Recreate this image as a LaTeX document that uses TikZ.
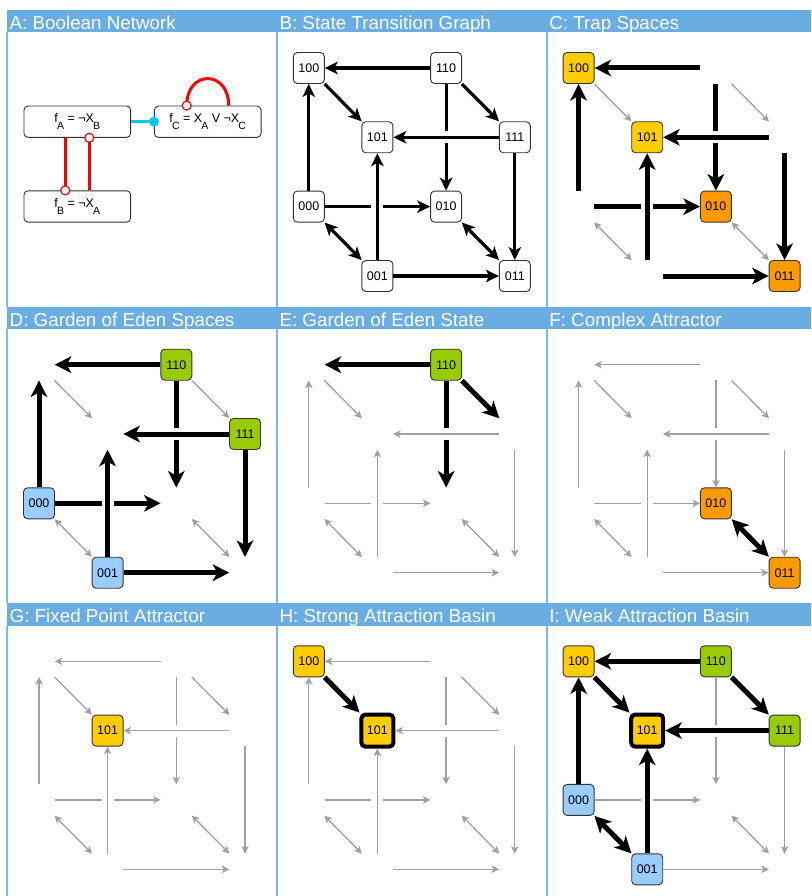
\documentclass[tikz,border=0pt]{standalone}
\usepackage{fontspec}
\setmainfont{Liberation Sans}
\usetikzlibrary{arrows.meta,calc}
\definecolor{barblue}{HTML}{69ADE2}
\definecolor{lineblue}{HTML}{7FB8E6}
\definecolor{boxline}{HTML}{333333}
\definecolor{tyellow}{HTML}{FFCC00}
\definecolor{torange}{HTML}{FF9900}
\definecolor{tgreen}{HTML}{99CC00}
\definecolor{tblue}{HTML}{99CCFF}
\definecolor{egrey}{HTML}{A0A0A0}
\definecolor{tcyan}{HTML}{00C8F0}
\definecolor{tred}{HTML}{FF0000}
\newcommand\sbs[1]{\kern-0.8pt\raisebox{-7pt}{\fontsize{10.5}{10.5}\selectfont #1}}
\newcommand\cubepanel[3]{%
 \begin{scope}[shift={(#2,#3)}]
  \node[n100] (#1n100) at (32,58) {100};
  \node[n110] (#1n110) at (169.3,58) {110};
  \node[n101] (#1n101) at (100.6,127.3) {101};
  \node[n111] (#1n111) at (238,127.3) {111};
  \node[n000] (#1n000) at (32,196.6) {000};
  \node[n010] (#1n010) at (169.3,196.6) {010};
  \node[n001] (#1n001) at (100.6,266) {001};
  \node[n011] (#1n011) at (238,266) {011};
  \draw[e4,->] (#1n110) -- (#1n010);
  \draw[e8,->] (#1n000) -- (#1n010);
  \fill[white] (169.3-5,127.3-6) rectangle (169.3+5,127.3+6);
  \fill[white] (100.6-6,196.6-5) rectangle (100.6+6,196.6+5);
  \draw[e1,->] (#1n110) -- (#1n100);
  \draw[e2,->] (#1n100) -- (#1n101);
  \draw[e3,->] (#1n110) -- (#1n111);
  \draw[e5,->] (#1n111) -- (#1n101);
  \draw[e6,->] (#1n111) -- (#1n011);
  \draw[e7,->] (#1n000) -- (#1n100);
  \draw[e9,->] (#1n001) -- (#1n101);
  \draw[e10,<->] (#1n000) -- (#1n001);
  \draw[e11,<->] (#1n010) -- (#1n011);
  \draw[e12,->] (#1n001) -- (#1n011);
 \end{scope}}
\begin{document}
\begin{tikzpicture}[x=1pt,y=-1pt,
  hid/.style={draw=none,fill=none,minimum size=31pt,inner sep=0pt,
    execute at begin node={\setbox0\hbox\bgroup},execute at end node={\egroup}},
  cbox/.style={draw=boxline,line width=0.9pt,rounded corners=4pt,minimum size=31pt,inner sep=0pt,font=\fontsize{12.5}{12.5}\selectfont},
  wbox/.style={cbox,fill=white},
  ybox/.style={cbox,fill=tyellow},
  obox/.style={cbox,fill=torange},
  gbox/.style={cbox,fill=tgreen},
  lbbox/.style={cbox,fill=tblue},
  attr/.style={cbox,fill=tyellow,draw=black,line width=4pt,minimum size=32pt},
  gE/.style={draw=egrey,line width=1.3pt,>={Stealth[length=7.5pt,width=7.5pt,inset=2pt]}},
  mE/.style={draw=black,line width=3.2pt,>={Stealth[length=13pt,width=12.5pt,inset=3.5pt]}},
  bE/.style={draw=black,line width=5pt,>={Stealth[length=16.5pt,width=16.5pt,inset=4.5pt]}},
  n100/.style=hid,n110/.style=hid,n101/.style=hid,n111/.style=hid,
  n000/.style=hid,n010/.style=hid,n001/.style=hid,n011/.style=hid,
  e1/.style=gE,e2/.style=gE,e3/.style=gE,e4/.style=gE,e5/.style=gE,e6/.style=gE,
  e7/.style=gE,e8/.style=gE,e9/.style=gE,e10/.style=gE,e11/.style=gE,e12/.style=gE,
  ttl/.style={text=white,inner sep=0pt,anchor=base west,font=\fontsize{18.8}{18.8}\selectfont},
  abox/.style={draw=boxline,line width=0.9pt,rounded corners=4pt,fill=white,minimum width=106.7pt,minimum height=31.3pt,inner sep=0pt,font=\fontsize{12.5}{12.5}\selectfont},
  act/.style={draw=tcyan,line width=3pt},
  inh/.style={draw=tred,line width=3pt},
  ocirc/.style={draw=tred,fill=white,line width=1.2pt},
  pline/.style={draw=lineblue,line width=2pt}
]
\useasboundingbox (0,0) rectangle (811,896);
% frames
\fill[barblue] (7,10) rectangle (811,32.3);
\fill[barblue] (7,306.7) rectangle (811,329);
\fill[barblue] (7,603.3) rectangle (811,625.6);
\foreach \L in {7,276.8,546.6}{
  \draw[pline] (\L,32.3) -- (\L,306.7);
  \draw[pline] (\L,329) -- (\L,603.3);
  \draw[pline] (\L,625.6) -- (\L,896);
}
\node[ttl] (tA) at (9.5,29.5) {A: Boolean Network};
\node[ttl] (tB) at (279.3,29.5) {B: State Transition Graph};
\node[ttl] (tC) at (549.1,29.5) {C: Trap Spaces};
\node[ttl] (tD) at (9.5,326) {D: Garden of Eden Spaces};
\node[ttl] (tE) at (279.3,326) {E: Garden of Eden State};
\node[ttl] (tF) at (549.1,326) {F: Complex Attractor};
\node[ttl] (tG) at (9.5,622.6) {G: Fixed Point Attractor};
\node[ttl] (tH) at (279.3,622.6) {H: Strong Attraction Basin};
\node[ttl] (tI) at (549.1,622.6) {I: Weak Attraction Basin};
% panel A
\node[abox] (fA) at (77.3,121.7) {f\sbs{A} = ¬X\sbs{B}};
\node[abox] (fC) at (207.7,121.7) {f\sbs{C} = X\sbs{A} V ¬X\sbs{C}};
\node[abox] (fB) at (77.3,206.5) {f\sbs{B} = ¬X\sbs{A}};
\draw[act] (fA.east) -- (fC.west);
\fill[tcyan] (fC.west) circle (5);
\draw[inh] ([xshift=-12pt]fA.south) -- ([xshift=-12pt]fB.north);
\draw[inh] ([xshift=12pt]fB.north) -- ([xshift=12pt]fA.south);
\draw[inh] ([xshift=-21pt]fC.north) .. controls ([xshift=-21pt,yshift=36pt]fC.north) and ([xshift=21pt,yshift=36pt]fC.north) .. ([xshift=21pt]fC.north);
\draw[ocirc] ([xshift=-12pt]fB.north) circle (4.5);
\draw[ocirc] ([xshift=12pt]fA.south) circle (4.5);
\draw[ocirc] ([xshift=-21pt]fC.north) circle (4.5);
% panel B
\begin{scope}[n100/.style=wbox,n110/.style=wbox,n101/.style=wbox,n111/.style=wbox,
  n000/.style=wbox,n010/.style=wbox,n001/.style=wbox,n011/.style=wbox,
  e1/.style=mE,e2/.style=mE,e3/.style=mE,e4/.style=mE,e5/.style=mE,e6/.style=mE,
  e7/.style=mE,e8/.style=mE,e9/.style=mE,e10/.style=mE,e11/.style=mE,e12/.style=mE]
\cubepanel{B}{276.8}{10}
\end{scope}
% panel C
\begin{scope}[n100/.style=ybox,n101/.style=ybox,n010/.style=obox,n011/.style=obox,
  e1/.style=bE,e4/.style=bE,e5/.style=bE,e6/.style=bE,e7/.style=bE,e8/.style=bE,e9/.style=bE,e12/.style=bE]
\cubepanel{C}{546.6}{10}
\end{scope}
% panel D
\begin{scope}[n110/.style=gbox,n111/.style=gbox,n000/.style=lbbox,n001/.style=lbbox,
  e1/.style=bE,e4/.style=bE,e5/.style=bE,e6/.style=bE,e7/.style=bE,e8/.style=bE,e9/.style=bE,e12/.style=bE]
\cubepanel{D}{7}{306.7}
\end{scope}
% panel E
\begin{scope}[n110/.style=gbox,e1/.style=bE,e3/.style=bE,e4/.style=bE]
\cubepanel{E}{276.8}{306.7}
\end{scope}
% panel F
\begin{scope}[n010/.style=obox,n011/.style=obox,e11/.style=bE]
\cubepanel{F}{546.6}{306.7}
\end{scope}
% panel G
\begin{scope}[n101/.style=ybox]
\cubepanel{G}{7}{603.3}
\end{scope}
% panel H
\begin{scope}[n100/.style=ybox,n101/.style=attr,e2/.style=bE]
\cubepanel{H}{276.8}{603.3}
\end{scope}
% panel I
\begin{scope}[n100/.style=ybox,n101/.style=attr,n110/.style=gbox,n111/.style=gbox,
  n000/.style=lbbox,n001/.style=lbbox,
  e1/.style=bE,e2/.style=bE,e3/.style=bE,e5/.style=bE,e7/.style=bE,e9/.style=bE,e10/.style=bE]
\cubepanel{I}{546.6}{603.3}
\end{scope}
\end{tikzpicture}
\end{document}
